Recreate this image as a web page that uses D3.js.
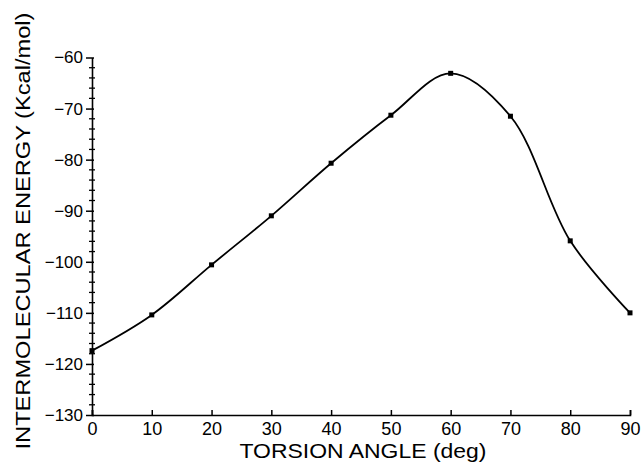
<!DOCTYPE html>
<html>
<head>
<meta charset="utf-8">
<script src="https://cdn.jsdelivr.net/npm/d3@7"></script>
<style>
  body { margin: 0; background: #fff; }
  text { font-family: "Liberation Sans", Arial, sans-serif; fill: #000; }
</style>
</head>
<body>
<div id="chart"></div>
<script>
// torsion angle (deg) and intermolecular energy (Kcal/mol)
var angles = [0, 10, 20, 30, 40, 50, 60, 70, 80, 90];
var energies = [-117.4, -110.4, -100.6, -91.0, -80.7, -71.3, -63.1, -71.5, -95.9, -110.0];
var xTicks = [0, 10, 20, 30, 40, 50, 60, 70, 80, 90];
var yTicks = [-60, -70, -80, -90, -100, -110, -120, -130];

var data = [];
for (var i = 0; i < angles.length; i++) {
  data.push({a: angles[i], e: energies[i]});
}

var width = 641, height = 464;
var margin = {top: 57.5, right: 11, bottom: 49, left: 92};

var svg = d3.select("#chart")
  .append("svg")
    .attr("width", width)
    .attr("height", height);

var x = d3.scaleLinear()
  .domain([0, 90])
  .range([margin.left, width - margin.right]);

var y = d3.scaleLinear()
  .domain([-130, -60])
  .range([height - margin.bottom, margin.top]);

var fmt = function (d) { return String(d).replace("-", "\u2212"); };

// X axis: ticks point up into the plot
var gx = svg.append("g")
  .attr("transform", "translate(0," + y(-130) + ")")
  .call(d3.axisBottom(x).tickValues(xTicks).tickSize(-5).tickPadding(7).tickFormat(d3.format("d")));
gx.select(".domain").attr("stroke-width", 1.6);
gx.selectAll(".tick line").attr("stroke-width", 1.5);
gx.selectAll(".tick text").style("font-size", "18px").attr("dy", "0.71em");

// Y axis: major ticks every 10, minor every 2
var gy = svg.append("g")
  .attr("transform", "translate(" + x(0) + ",0)")
  .call(d3.axisLeft(y).tickValues(yTicks).tickSize(6).tickPadding(3).tickFormat(fmt).tickSizeOuter(0));
gy.select(".domain").attr("stroke-width", 1.6);
gy.selectAll(".tick line").attr("stroke-width", 1.5).attr("x2", 2).attr("x1", -6);
gy.selectAll(".tick text").style("font-size", "17px");

var minor = d3.range(-130, -59, 2).filter(function (d) { return d % 10 !== 0; });
svg.append("g")
  .selectAll("line")
  .data(minor)
  .enter()
  .append("line")
    .attr("x1", x(0) - 3)
    .attr("x2", x(0) + 3)
    .attr("y1", function (d) { return y(d); })
    .attr("y2", function (d) { return y(d); })
    .attr("stroke", "#000")
    .attr("stroke-width", 1.3);

// curve
var line = d3.line()
  .x(function (d) { return x(d.a); })
  .y(function (d) { return y(d.e); })
  .curve(d3.curveCatmullRom.alpha(0.5));

svg.append("path")
  .datum(data)
  .attr("d", line)
  .attr("fill", "none")
  .attr("stroke", "#000")
  .attr("stroke-width", 1.8);

// points
svg.append("g")
  .selectAll("rect")
  .data(data)
  .enter()
  .append("rect")
    .attr("x", function (d) { return x(d.a) - 2.5; })
    .attr("y", function (d) { return y(d.e) - 2.5; })
    .attr("width", 5)
    .attr("height", 5)
    .attr("fill", "#000");

// axis titles
svg.append("text")
  .attr("x", 363)
  .attr("y", 458)
  .attr("text-anchor", "middle")
  .attr("textLength", 247)
  .attr("lengthAdjust", "spacingAndGlyphs")
  .style("font-size", "21px")
  .text("TORSION  ANGLE  (deg)");

svg.append("text")
  .attr("transform", "translate(30,231) rotate(-90)")
  .attr("text-anchor", "middle")
  .attr("textLength", 437)
  .attr("lengthAdjust", "spacingAndGlyphs")
  .style("font-size", "21px")
  .text("INTERMOLECULAR  ENERGY  (Kcal/mol)");
</script>
</body>
</html>
